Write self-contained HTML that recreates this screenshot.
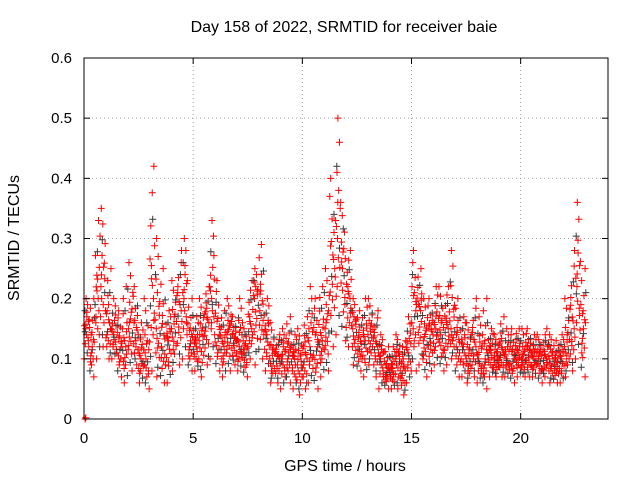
<!DOCTYPE html>
<html><head><meta charset="utf-8"><style>
body{margin:0;background:#fff;}
svg{display:block;font-family:"Liberation Sans",sans-serif;}
</style></head><body>
<svg id="chart" width="640" height="480">
<rect width="640" height="480" fill="#fff"/>
<text x="344" y="32" text-anchor="middle" font-size="16">Day 158 of 2022, SRMTID for receiver baie</text>
<text x="345" y="471" text-anchor="middle" font-size="16">GPS time / hours</text>
<text transform="translate(19,238) rotate(-90)" text-anchor="middle" font-size="16">SRMTID / TECUs</text>
<g id="grid"></g>
<g id="marks"></g>
<rect x="84" y="58" width="524" height="361" fill="none" stroke="#000" stroke-width="1"/>
<g id="ticks"></g>
</svg>
<script>
const hours=[0,0.25,0.5,0.75,1,1.25,1.5,1.75,2,2.25,2.5,2.75,3,3.25,3.5,3.75,4,4.25,4.5,4.75,5,5.25,5.5,5.75,6,6.25,6.5,6.75,7,7.25,7.5,7.75,8,8.25,8.5,8.75,9,9.25,9.5,9.75,10,10.25,10.5,10.75,11,11.25,11.5,11.75,12,12.25,12.5,12.75,13,13.25,13.5,13.75,14,14.25,14.5,14.75,15,15.25,15.5,15.75,16,16.25,16.5,16.75,17,17.25,17.5,17.75,18,18.25,18.5,18.75,19,19.25,19.5,19.75,20,20.25,20.5,20.75,21,21.25,21.5,21.75,22,22.25,22.5,22.75];
const lowVals=[0.1,0.07,0.1,0.12,0.1,0.1,0.07,0.06,0.08,0.09,0.06,0.05,0.08,0.07,0.06,0.06,0.08,0.09,0.1,0.08,0.08,0.07,0.09,0.1,0.08,0.07,0.08,0.09,0.08,0.07,0.1,0.09,0.1,0.08,0.06,0.06,0.05,0.06,0.05,0.04,0.05,0.06,0.05,0.07,0.08,0.12,0.14,0.13,0.12,0.09,0.08,0.07,0.09,0.07,0.05,0.05,0.05,0.05,0.04,0.06,0.08,0.09,0.07,0.08,0.09,0.08,0.09,0.1,0.07,0.07,0.06,0.07,0.06,0.05,0.07,0.07,0.07,0.07,0.06,0.07,0.07,0.07,0.07,0.06,0.07,0.06,0.06,0.06,0.07,0.08,0.1,0.07];
const midVals=[0.15,0.12,0.2,0.22,0.15,0.14,0.12,0.12,0.15,0.14,0.1,0.1,0.2,0.15,0.12,0.13,0.15,0.18,0.2,0.13,0.12,0.13,0.16,0.2,0.14,0.12,0.14,0.13,0.12,0.11,0.15,0.2,0.18,0.14,0.1,0.1,0.1,0.11,0.1,0.09,0.1,0.12,0.12,0.13,0.15,0.25,0.3,0.25,0.2,0.15,0.12,0.13,0.14,0.12,0.1,0.08,0.08,0.1,0.08,0.11,0.18,0.18,0.13,0.14,0.15,0.14,0.15,0.15,0.12,0.12,0.1,0.12,0.1,0.1,0.11,0.1,0.11,0.1,0.1,0.11,0.1,0.11,0.1,0.1,0.1,0.1,0.09,0.1,0.12,0.15,0.22,0.15];
const highVals=[0.2,0.2,0.33,0.35,0.25,0.2,0.18,0.22,0.26,0.22,0.16,0.2,0.42,0.3,0.25,0.18,0.23,0.28,0.3,0.2,0.17,0.2,0.22,0.33,0.23,0.18,0.2,0.17,0.2,0.16,0.23,0.25,0.29,0.2,0.16,0.14,0.15,0.17,0.14,0.15,0.17,0.22,0.2,0.22,0.25,0.4,0.5,0.36,0.28,0.2,0.18,0.2,0.2,0.18,0.14,0.12,0.12,0.14,0.13,0.17,0.28,0.25,0.2,0.2,0.22,0.22,0.22,0.28,0.2,0.17,0.16,0.2,0.17,0.2,0.15,0.14,0.17,0.15,0.15,0.15,0.15,0.15,0.14,0.14,0.15,0.14,0.13,0.14,0.2,0.28,0.36,0.25];
const xTicks=[0,5,10,15,20];
const yTicks=[0,0.1,0.2,0.3,0.4,0.5,0.6];
const X0=84,X1=608,Y0=419,Y1=58,XMAX=24,YMAX=0.6;
function xs(h){return X0+h/XMAX*(X1-X0);}
function ys(v){return Y0-v/YMAX*(Y0-Y1);}
const NS="http://www.w3.org/2000/svg";
function mk(tag,attrs,parent){const e=document.createElementNS(NS,tag);for(const k in attrs)e.setAttribute(k,attrs[k]);parent.appendChild(e);return e;}
const grid=document.getElementById('grid'),ticks=document.getElementById('ticks'),marks=document.getElementById('marks');
xTicks.forEach(t=>{const x=xs(t);
 if(t>0){const g=mk('line',{x1:x,x2:x,y1:Y0,y2:Y1,stroke:'#a0a0a0','stroke-dasharray':'1,3'},grid);
 
 }
 mk('line',{x1:x,x2:x,y1:Y0,y2:Y0-6,stroke:'#000'},ticks);
 mk('line',{x1:x,x2:x,y1:Y1,y2:Y1+6,stroke:'#000'},ticks);
 const l=mk('text',{x:x,y:Y0+24,'text-anchor':'middle','font-size':'15'},ticks);l.textContent=t;
 
 });
yTicks.forEach(t=>{const y=ys(t);
 if(t>0&&t<0.6){const g=mk('line',{x1:X0,x2:X1,y1:y,y2:y,stroke:'#a0a0a0','stroke-dasharray':'1,3'},grid);
 
 }
 mk('line',{x1:X0,x2:X0+6,y1:y,y2:y,stroke:'#000'},ticks);
 mk('line',{x1:X1,x2:X1-6,y1:y,y2:y,stroke:'#000'},ticks);
 const l=mk('text',{x:X0-12,y:y+5,'text-anchor':'end','font-size':'15'},ticks);l.textContent=String(t);
 
 });
// fixed sampling pattern: x offset fractions and envelope positions (-1..1), rotated per bin
const xf=[0.03,0.1,0.17,0.24,0.31,0.38,0.45,0.52,0.59,0.66,0.73,0.8,0.87,0.94,0.2,0.5,0.8,0.35];
const ef=[-1,0.1,0.6,-0.5,0,1,-0.2,0.4,-0.8,0.8,-0.3,0.25,-0.6,0.3,-0.1,0.55,-0.4,0.15];
function plus(x,y,c){const p=mk('path',{d:`M${x-3.5},${y}h7M${x},${y-3.5}v7`,stroke:c,'stroke-width':1},marks);
 
 }
hours.forEach((h,i)=>{const lo=lowVals[i],md=midVals[i],hi=highVals[i];
 xf.forEach((f,j)=>{const e=ef[(j+i*7)%ef.length];const v=e<0?md+(md-lo)*e:md+(hi-md)*e;
  const x=xs(h+f*0.25);const c=((j+i)%6===2)?'#3a3a3a':'#ff0000';plus(x,ys(v),c);});});
plus(xs(0.05),ys(0),'#ff0000');plus(xs(0.08),ys(0.002),'#ff0000');
</script>
</body></html>
